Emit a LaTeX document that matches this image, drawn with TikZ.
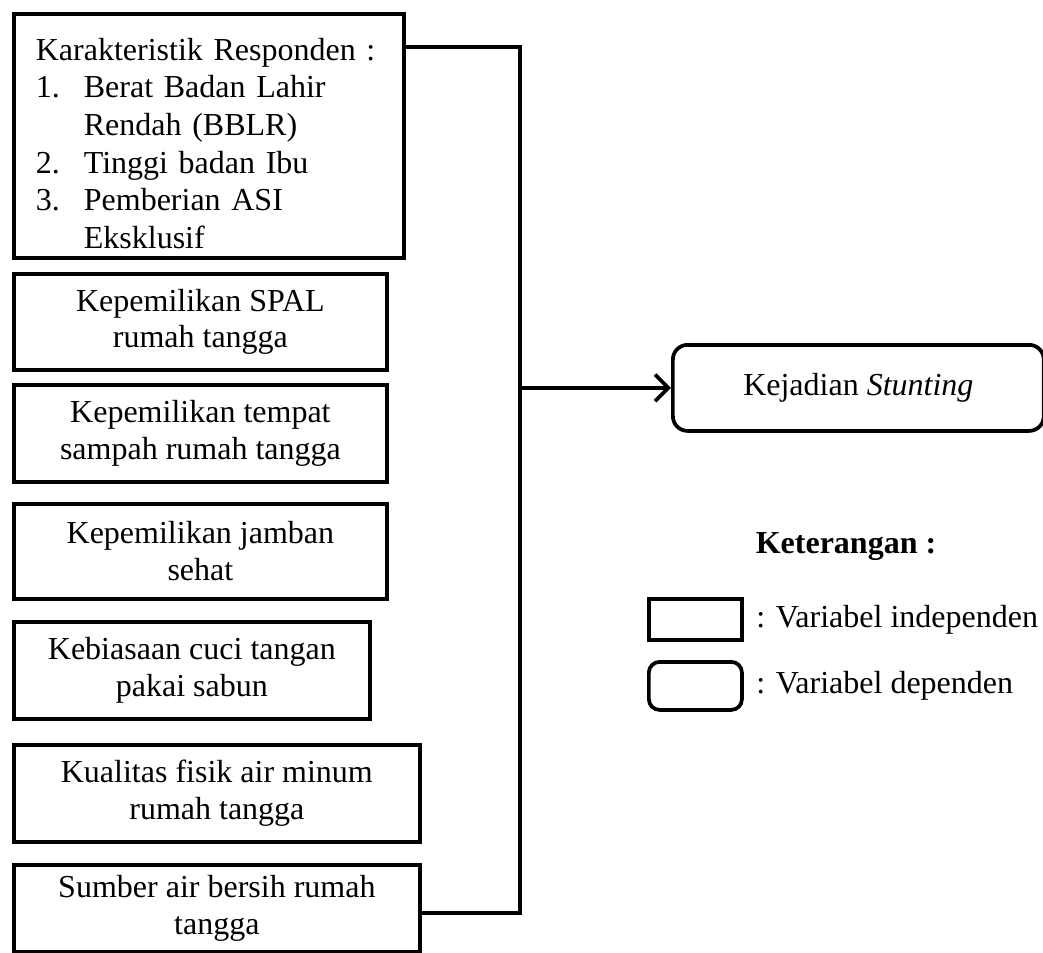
\documentclass[tikz,border=0pt]{standalone}
\usepackage{fontspec}
\setmainfont{Liberation Serif}
\usetikzlibrary{positioning,arrows.meta}

\begin{document}
\begin{tikzpicture}[x=0.375pt,y=-0.375pt]
\tikzset{
	varbox/.style={draw, line width=1.4pt, anchor=north west, align=center,
		inner xsep=4pt, inner ysep=2pt,
		font=\fontsize{12pt}{13.8pt}\selectfont},
	depbox/.style={varbox, rounded corners=5.5pt},
	legtext/.style={inner sep=0pt, font=\fontsize{12pt}{13.8pt}\selectfont},
	link/.style={line width=1.4pt}
}

\def\indent{18pt}

\useasboundingbox (0,0) rectangle (1043,952);

% variabel independen
\node[varbox, align=left, text width=129.75pt, inner xsep=8.25pt,
	minimum height=91.5pt, font=\fontsize{12pt}{14.1pt}\selectfont] (kar) at (12,12)
	{\rule{0pt}{14pt}Karakteristik Responden :\\
	\makebox[\indent][l]{1.}Berat Badan Lahir\\
	\hspace*{\indent}Rendah (BBLR)\\
	\makebox[\indent][l]{2.}Tinggi badan Ibu\\
	\makebox[\indent][l]{3.}Pemberian ASI\\
	\hspace*{\indent}Eksklusif};

\node[varbox, minimum width=139.9pt, minimum height=36pt] (spal) at (12,272)
	{Kepemilikan SPAL\\ rumah tangga};
\node[varbox, minimum width=139.9pt, minimum height=36.4pt] (sampah) at (12,383)
	{Kepemilikan tempat\\ sampah rumah tangga};
\node[varbox, minimum width=139.9pt, minimum height=35.6pt] (jamban) at (12,502)
	{Kepemilikan jamban\\ sehat};
\node[varbox, minimum width=133.5pt, minimum height=36.4pt] (cuci) at (12,620)
	{Kebiasaan cuci tangan\\ pakai sabun};
\node[varbox, minimum width=152.25pt, minimum height=36.4pt] (kualitas) at (12,743)
	{Kualitas fisik air minum\\ rumah tangga};
\node[varbox, minimum width=152.25pt, minimum height=32.6pt] (sumber) at (12,863)
	{Sumber air bersih rumah\\ tangga};

% variabel dependen
\node[depbox, minimum width=139.1pt, minimum height=32.25pt] (kej) at (671,343)
	{Kejadian \textit{Stunting}};

% links
\coordinate (topjoin) at (520,47);
\coordinate (botjoin) at (520,913);
\draw[link] (kar.east |- topjoin) -- (topjoin) -- (botjoin) -- (sumber.east |- botjoin);
\draw[link, -{Straight Barb[length=5pt,width=10pt]}] (topjoin |- kej.west) -- (kej.west);

% keterangan
\node[legtext, font=\bfseries\fontsize{12pt}{13.8pt}\selectfont] (ket) at (846,547) {Keterangan :};
\node[varbox, minimum width=34.9pt, minimum height=15.4pt] (legind) at (647,597) {};
\node[legtext, right=4.5pt of legind] (legindtxt) {: Variabel independen};
\node[depbox, rounded corners=4pt, minimum width=34.9pt, minimum height=18pt] (legdep) at (647,660) {};
\node[legtext, right=4.5pt of legdep] (legdeptxt) {: Variabel dependen};

\end{tikzpicture}
\end{document}
